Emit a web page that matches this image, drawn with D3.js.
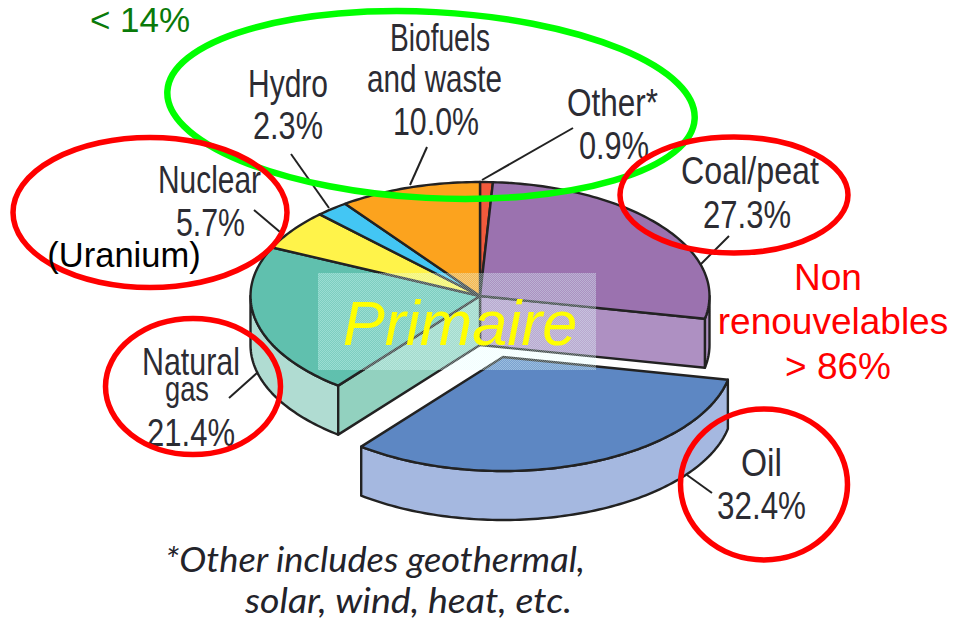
<!DOCTYPE html>
<html>
<head>
<meta charset="utf-8">
<script src="https://cdn.jsdelivr.net/npm/d3@7"></script>
<style>
  html, body { margin: 0; padding: 0; background: #fff; }
  svg { display: block; }
  .lab { font-family: "Liberation Sans", sans-serif; fill: #2c2c33; }
  .foot { font-family: Lato, "Liberation Sans", sans-serif; fill: #23232a; }
  .note { font-family: "Liberation Sans", Arial, sans-serif; }
</style>
</head>
<body>
<div id="chart"></div>
<script>
// clockwise from 12 o'clock
var sliceNames = ["Other*", "Coal/peat", "Oil", "Natural gas", "Nuclear", "Hydro", "Biofuels and waste"];
var sliceValues = [0.9, 27.3, 32.4, 21.4, 5.7, 2.3, 10.0];
var topColors = ["#f15a3c", "#9b72af", "#5d87c3", "#60c0ae", "#fff34a", "#43c6f4", "#fca31e"];
var footnoteLines = ["*Other includes geothermal,", "solar, wind, heat, etc."];

var width = 953, height = 623;
var svg = d3.select("#chart").append("svg")
    .attr("width", width)
    .attr("height", height);

// pie is a tilted disc: unit circle mapped onto an ellipse
var x = d3.scaleLinear().domain([-1, 1]).range([250.5, 709.5]);
var y = d3.scaleLinear().domain([-1, 1]).range([182, 410]);
var depth = 49;
var explode = {x: 23, y: 61};

var slices = d3.pie().sort(null).value(function(d) { return d; })(sliceValues);
var line = d3.line();

function rim(a0, a1, dy) {
  var n = Math.max(2, Math.ceil((a1 - a0) / 0.02));
  return d3.range(n + 1).map(function(i) {
    var a = a0 + (a1 - a0) * i / n;
    return [x(Math.sin(a)), y(-Math.cos(a)) + dy];
  });
}
function centre(dy) { return [x(0), y(0) + dy]; }
function topFace(s) { return line([centre(0)].concat(rim(s.startAngle, s.endAngle, 0))) + "Z"; }
function outerWall(a0, a1) { return line(rim(a0, a1, 0).concat(rim(a0, a1, depth).reverse())) + "Z"; }
function cutWall(a) {
  var p = rim(a, a, 0)[0];
  return line([centre(0), p, [p[0], p[1] + depth], centre(depth)]) + "Z";
}

var pie = svg.append("g")
    .attr("stroke", "#222")
    .attr("stroke-width", 2.4)
    .attr("stroke-linejoin", "round");

var coal = slices[1], oil = slices[2], gas = slices[3];

// walls first so the top faces sit over them
pie.append("path").attr("d", outerWall(Math.PI / 2, coal.endAngle)).attr("fill", "#ae90c2");
pie.append("path").attr("d", cutWall(coal.endAngle)).attr("fill", "#ae90c2");
pie.append("path").attr("d", outerWall(gas.startAngle, 3 * Math.PI / 2)).attr("fill", "#b0dcd2");
pie.append("path").attr("d", cutWall(gas.startAngle)).attr("fill", "#92d1bf");

pie.selectAll("path.top")
    .data(slices.filter(function(d) { return d.index != 2; }))
  .enter().append("path")
    .attr("class", "top")
    .attr("d", topFace)
    .attr("fill", function(d) { return topColors[d.index]; });

// pulled out oil slice
var oilG = pie.append("g")
    .attr("transform", "translate(" + explode.x + "," + explode.y + ")");
oilG.append("path").attr("d", outerWall(oil.startAngle, oil.endAngle)).attr("fill", "#a5b8e0");
oilG.append("path").attr("d", topFace(oil)).attr("fill", topColors[2]);

// leader lines
var leaders = [
  [[573, 128], [482, 180]],
  [[729, 236], [700, 265]],
  [[687, 475], [712, 493]],
  [[257, 373], [229, 398]],
  [[254, 210], [280, 232]],
  [[291, 154], [329, 208]],
  [[427, 147], [410, 185]]
];
svg.append("g").selectAll("path")
    .data(leaders)
  .enter().append("path")
    .attr("d", function(d) { return line(d); })
    .attr("stroke", "#222")
    .attr("stroke-width", 2)
    .attr("fill", "none");

// dithered box behind the word
var defs = svg.append("defs");
var pat = defs.append("pattern")
    .attr("id", "dither")
    .attr("width", 2).attr("height", 2)
    .attr("patternUnits", "userSpaceOnUse");
pat.append("rect").attr("width", 2).attr("height", 2).attr("fill", "#e4ffff").attr("fill-opacity", 0.22);
pat.append("rect").attr("width", 1).attr("height", 1).attr("fill", "#e4ffff").attr("fill-opacity", 0.3);
pat.append("rect").attr("x", 1).attr("y", 1).attr("width", 1).attr("height", 1).attr("fill", "#e4ffff").attr("fill-opacity", 0.3);

svg.append("rect")
    .attr("x", 318).attr("y", 273)
    .attr("width", 278).attr("height", 97)
    .attr("fill", "url(#dither)");

svg.append("text")
    .attr("class", "note")
    .attr("x", 460).attr("y", 345)
    .attr("text-anchor", "middle")
    .style("font-size", "63px")
    .style("font-style", "italic")
    .attr("fill", "#ffff00")
    .text("Primaire");

// slice labels: the face is squeezed to the measured width of each row
var pct = function(v) { return d3.format(".1f")(v) + "%"; };
var rows = [
  {t: "Other*", x0: 567, x1: 658, y: 116},
  {t: pct(sliceValues[0]), x0: 579, x1: 649, y: 159},
  {t: "Coal/peat", x0: 681, x1: 819, y: 184},
  {t: pct(sliceValues[1]), x0: 703, x1: 791, y: 228},
  {t: "Oil", x0: 741, x1: 782, y: 476},
  {t: pct(sliceValues[2]), x0: 717, x1: 806, y: 519},
  {t: "Natural", x0: 142, x1: 240, y: 375},
  {t: "gas", x0: 165, x1: 209, y: 401, size: 35},
  {t: pct(sliceValues[3]), x0: 147, x1: 235, y: 446},
  {t: "Nuclear", x0: 158, x1: 261, y: 193},
  {t: pct(sliceValues[4]), x0: 176, x1: 245, y: 236},
  {t: "Hydro", x0: 248, x1: 328, y: 97},
  {t: pct(sliceValues[5]), x0: 253, x1: 323, y: 139},
  {t: "Biofuels", x0: 390, x1: 490, y: 51},
  {t: "and waste", x0: 367, x1: 502, y: 92},
  {t: pct(sliceValues[6]), x0: 393, x1: 479, y: 135}
];
svg.append("g").selectAll("text")
    .data(rows)
  .enter().append("text")
    .attr("class", "lab")
    .attr("x", function(d) { return d.x0; })
    .attr("y", function(d) { return d.y; })
    .attr("textLength", function(d) { return d.x1 - d.x0; })
    .attr("lengthAdjust", "spacingAndGlyphs")
    .style("font-size", function(d) { return (d.size || 39) + "px"; })
    .text(function(d) { return d.t; });

// footnote
var footPos = [{x0: 165, x1: 585, y: 572}, {x0: 245, x1: 572, y: 613}];
svg.append("g").selectAll("text")
    .data(footnoteLines)
  .enter().append("text")
    .attr("class", "foot")
    .attr("x", function(d, i) { return footPos[i].x0; })
    .attr("y", function(d, i) { return footPos[i].y; })
    .attr("textLength", function(d, i) { return footPos[i].x1 - footPos[i].x0; })
    .attr("lengthAdjust", "spacingAndGlyphs")
    .style("font-size", "34px")
    .style("font-style", "italic")
    .text(function(d) { return d; });

// hand drawn rings
var rings = [
  {cx: 431, cy: 105, rx: 264, ry: 93, rot: 3, color: "#00ff00", w: 6.5},
  {cx: 150, cy: 212.5, rx: 137, ry: 75, rot: 0, color: "#ff0000", w: 5.5},
  {cx: 193, cy: 386.5, rx: 87.5, ry: 68, rot: 0, color: "#ff0000", w: 5.5},
  {cx: 734, cy: 195, rx: 114, ry: 58, rot: 0, color: "#ff0000", w: 5.5},
  {cx: 764, cy: 484.5, rx: 83.5, ry: 75.5, rot: 0, color: "#ff0000", w: 5.5}
];
svg.append("g").selectAll("ellipse")
    .data(rings)
  .enter().append("ellipse")
    .attr("transform", function(d) { return "translate(" + d.cx + "," + d.cy + ") rotate(" + d.rot + ")"; })
    .attr("rx", function(d) { return d.rx; })
    .attr("ry", function(d) { return d.ry; })
    .attr("fill", "none")
    .attr("stroke", function(d) { return d.color; })
    .attr("stroke-width", function(d) { return d.w; });

// slide annotations
var notes = [
  {t: "< 14%", x: 140, y: 32, size: 35, color: "#0a7a0a"},
  {t: "(Uranium)", x: 124, y: 267, size: 34.5, color: "#000"},
  {t: "Non", x: 828, y: 290, size: 37, color: "#ff0000"},
  {t: "renouvelables", x: 833, y: 334, size: 37, color: "#ff0000"},
  {t: "> 86%", x: 838, y: 379, size: 37, color: "#ff0000"}
];
svg.append("g").selectAll("text")
    .data(notes)
  .enter().append("text")
    .attr("class", "note")
    .attr("x", function(d) { return d.x; })
    .attr("y", function(d) { return d.y; })
    .attr("text-anchor", "middle")
    .style("font-size", function(d) { return d.size + "px"; })
    .attr("fill", function(d) { return d.color; })
    .text(function(d) { return d.t; });
</script>
</body>
</html>
